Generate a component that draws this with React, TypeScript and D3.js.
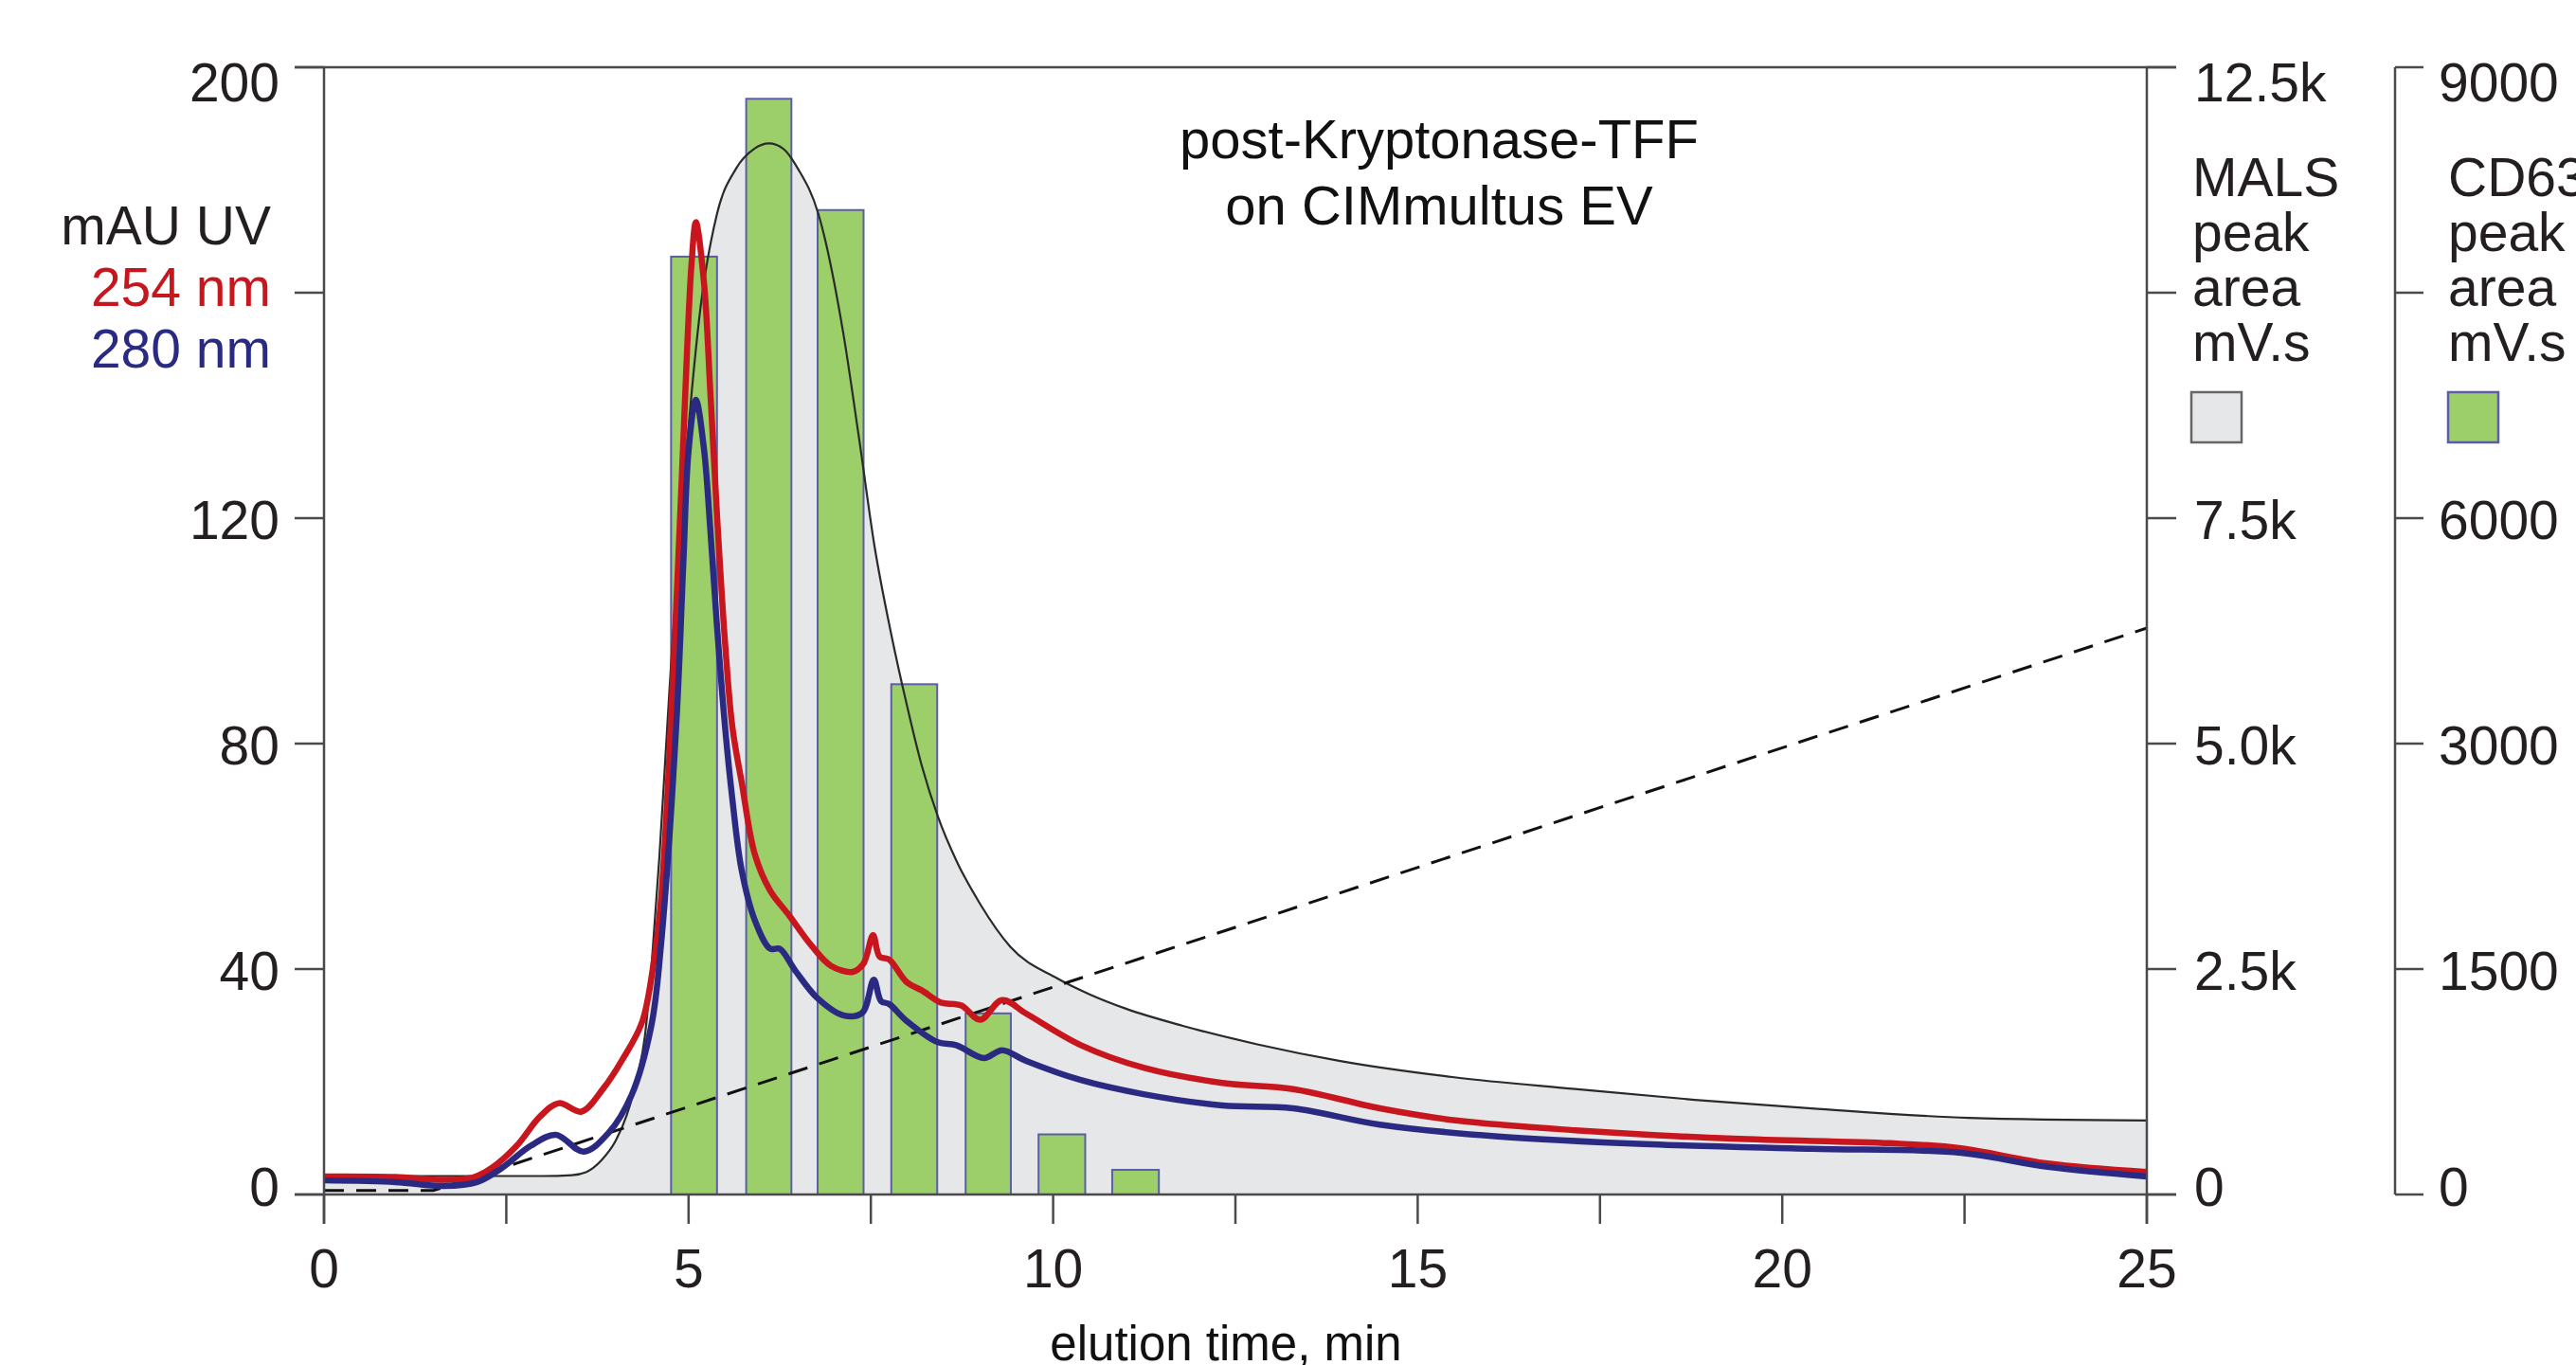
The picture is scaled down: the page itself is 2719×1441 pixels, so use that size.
import React from "react";
import * as d3 from "d3";

// ---------- data ----------
const uvTime254 = [0, 0.98, 1.57, 2.04, 2.3, 2.64, 2.96, 3.22, 3.53, 3.83, 4.09, 4.36, 4.52, 4.62, 4.73, 4.89, 4.98, 5.04, 5.1, 5.21, 5.3, 5.39, 5.5, 5.6, 5.73, 5.91, 6.12, 6.38, 6.69, 6.95, 7.25, 7.4, 7.53, 7.62, 7.75, 7.99, 8.2, 8.47, 8.64, 8.75, 9.0, 9.3, 9.63, 10.38, 11.24, 12.32, 13.29, 14.48, 15.55, 17.16, 19.32, 21.48, 22.45, 23.64, 25];
const uv254 = [3.2, 3.1, 2.6, 3.0, 4.7, 8.6, 13.8, 16.2, 14.7, 18.8, 23.9, 30.5, 41, 52, 76, 122, 150, 165, 172.5, 162, 142, 120.5, 98, 83, 73, 60.3, 53.9, 49.5, 44.1, 40.6, 39.5, 41, 46, 42.2, 41.7, 37.7, 36.2, 34, 33.8, 33.5, 31, 34.5, 32.1, 26.5, 22.5, 19.8, 18.7, 15.3, 13.1, 11.4, 9.9, 9.1, 8.2, 5.5, 4.0];

const uvTime280 = [0, 0.98, 1.64, 2.1, 2.44, 2.83, 3.18, 3.56, 3.9, 4.22, 4.49, 4.62, 4.83, 4.93, 5.0, 5.1, 5.21, 5.3, 5.39, 5.5, 5.6, 5.73, 5.91, 6.12, 6.25, 6.47, 6.77, 7.12, 7.38, 7.54, 7.64, 7.75, 7.99, 8.42, 8.67, 9.05, 9.3, 9.63, 10.38, 11.24, 12.32, 13.29, 14.48, 16.1, 18.2, 20.4, 22.45, 23.64, 25];
const uv280 = [2.5, 2.2, 1.5, 2.2, 4.7, 8.6, 10.6, 7.6, 10.9, 17.7, 30, 44, 83, 112.6, 132, 141, 132.4, 117.6, 100.8, 83, 70.2, 57.4, 48.6, 43.6, 43.6, 39.6, 34.8, 31.8, 32.2, 38.1, 34.3, 33.8, 30.8, 27, 26.5, 24.2, 25.6, 23.7, 20.3, 17.8, 15.8, 15.3, 12.4, 10.3, 8.9, 8.1, 7.4, 4.9, 3.2];

const malsTime = [0, 3.0, 3.4, 3.6, 3.8, 4.0, 4.15, 4.3, 4.4, 4.5, 4.6, 4.74, 4.96, 5.17, 5.39, 5.65, 5.9, 6.1, 6.3, 6.5, 6.78, 7.12, 7.34, 7.55, 7.77, 7.99, 8.2, 8.42, 8.68, 9.0, 9.41, 10.06, 10.5, 11.0, 11.78, 12.8, 13.94, 15.5, 17.16, 18.8, 20.4, 22.56, 25];
const malsArea = [205, 205, 215, 250, 375, 595, 875, 1310, 1750, 2625, 3750, 5625, 8125, 9875, 10875, 11375, 11595, 11655, 11595, 11375, 10875, 9560, 8375, 7190, 6250, 5440, 4750, 4190, 3690, 3220, 2750, 2395, 2220, 2060, 1870, 1665, 1480, 1300, 1170, 1050, 955, 850, 820];

const fractionStart = [4.76, 5.79, 6.77, 7.78, 8.8, 9.8, 10.81];
const fractionEnd = [5.39, 6.41, 7.4, 8.41, 9.42, 10.44, 11.45];
const cd63Area = [7740, 8790, 8050, 3790, 1205, 400, 164];

const gradientTime = [0, 1.5, 25];
const gradientLevel = [0.7, 0.7, 100.5];

const xTicks = [0, 2.5, 5, 7.5, 10, 12.5, 15, 17.5, 20, 22.5, 25];
const xTickLabels = ["0", "", "5", "", "10", "", "15", "", "20", "", "25"];
const uvTicks = [0, 40, 80, 120, 160, 200];
const uvTickLabels = ["0", "40", "80", "120", "", "200"];
const malsTicks = [0, 2500, 5000, 7500, 10000, 12500];
const malsTickLabels = ["0", "2.5k", "5.0k", "7.5k", "", "12.5k"];
const cd63Ticks = [0, 1500, 3000, 6000, 7500, 9000];
const cd63TickLabels = ["0", "1500", "3000", "6000", "", "9000"];

const titleLines = ["post-Kryptonase-TFF", "on CIMmultus EV"];
const uvLegendLines = ["mAU UV", "254 nm", "280 nm"];
const malsLegendLines = ["MALS", "peak", "area", "mV.s"];
const cd63LegendLines = ["CD63", "peak", "area", "mV.s"];
const xAxisTitle = "elution time, min";

// ---------- style ----------
const FONT = "'Liberation Sans', Arial, Helvetica, sans-serif";
const TXT = "#231f20";
const AX = "#4a4a4a";
const RED = "#c8161e";
const BLUE = "#2b2a83";
const GREEN = "#9ccf6a";
const BAR_STROKE = "#5b5ea6";
const GRAY = "#e6e7e8";

export default function App() {
  const W = 2719;
  const H = 1441;
  const left = 342;
  const right = 2266;
  const top = 71;
  const bottom = 1261;
  const tickLen = 31;
  const cdAxisX = 2528;

  const x = d3.scaleLinear().domain([0, 25]).range([left, right]);
  const yUV = d3.scaleLinear().domain([0, 200]).range([bottom, top]);
  const yMALS = d3.scaleLinear().domain([0, 12500]).range([bottom, top]);
  const step = (bottom - top) / 5;
  const yCD = d3
    .scaleLinear()
    .domain([0, 1500, 3000, 6000, 9000])
    .range([bottom, bottom - step, bottom - 2 * step, bottom - 3 * step, top]);

  const malsPts: [number, number][] = malsTime.map((t, i) => [t, malsArea[i]]);
  const areaGen = d3
    .area<[number, number]>()
    .x((d) => x(d[0]))
    .y0(bottom)
    .y1((d) => yMALS(d[1]))
    .curve(d3.curveMonotoneX);
  const malsLine = d3
    .line<[number, number]>()
    .x((d) => x(d[0]))
    .y((d) => yMALS(d[1]))
    .curve(d3.curveMonotoneX);

  const uvLine = d3
    .line<[number, number]>()
    .x((d) => x(d[0]))
    .y((d) => yUV(d[1]))
    .curve(d3.curveCatmullRom.alpha(0.5));
  const p254 = uvLine(uvTime254.map((t, i) => [t, uv254[i]]));
  const p280 = uvLine(uvTime280.map((t, i) => [t, uv280[i]]));
  const gradLine = d3
    .line<[number, number]>()
    .x((d) => x(d[0]))
    .y((d) => yUV(d[1]));
  const pGrad = gradLine(gradientTime.map((t, i) => [t, gradientLevel[i]]));

  const dyFor = (i: number, n: number) => (i === n - 1 ? 36 : i === 0 ? 12 : 22);
  const fs = 57;

  return (
    <svg
      width={W}
      height={H}
      viewBox={`0 0 ${W} ${H}`}
      style={{ position: "absolute", left: 0, top: 0, background: "#fff" }}
      fontFamily={FONT}
    >
      <style>{`body{margin:0;overflow:hidden}`}</style>
      <rect x={0} y={0} width={W} height={H} fill="#fff" />

      {/* MALS filled area */}
      <path d={areaGen(malsPts) || ""} fill={GRAY} stroke="none" />

      {/* CD63 bars */}
      {cd63Area.map((v, i) => (
        <rect
          key={"b" + i}
          x={x(fractionStart[i])}
          y={yCD(v)}
          width={x(fractionEnd[i]) - x(fractionStart[i])}
          height={bottom - yCD(v)}
          fill={GREEN}
          stroke={BAR_STROKE}
          strokeWidth={2}
        />
      ))}

      {/* MALS outline */}
      <path d={malsLine(malsPts) || ""} fill="none" stroke="#2a2a2a" strokeWidth={2.2} />

      {/* gradient dashed */}
      <path d={pGrad || ""} fill="none" stroke="#111" strokeWidth={3} strokeDasharray="21 13" />

      {/* UV traces */}
      <path d={p254 || ""} fill="none" stroke={RED} strokeWidth={6.5} strokeLinejoin="round" />
      <path d={p280 || ""} fill="none" stroke={BLUE} strokeWidth={6.5} strokeLinejoin="round" />

      {/* frame lines */}
      <line x1={left - tickLen} x2={right + tickLen} y1={top} y2={top} stroke={AX} strokeWidth={2.5} />
      <line x1={left - tickLen} x2={right + tickLen} y1={bottom} y2={bottom} stroke={AX} strokeWidth={2.5} />
      <line x1={left} x2={left} y1={top} y2={bottom + tickLen} stroke={AX} strokeWidth={2.5} />
      <line x1={right} x2={right} y1={top} y2={bottom + tickLen} stroke={AX} strokeWidth={2.5} />
      <line x1={cdAxisX} x2={cdAxisX} y1={top} y2={bottom} stroke={AX} strokeWidth={2.5} />

      {/* x ticks */}
      {xTicks.map((t, i) => (
        <g key={"xt" + i}>
          <line x1={x(t)} x2={x(t)} y1={bottom} y2={bottom + tickLen} stroke={AX} strokeWidth={2.5} />
          {xTickLabels[i] && (
            <text x={x(t)} y={1359} textAnchor="middle" fontSize={fs} fill={TXT}>
              {xTickLabels[i]}
            </text>
          )}
        </g>
      ))}

      {/* left UV axis */}
      {uvTicks.map((t, i) => (
        <g key={"ut" + i}>
          <line x1={left - tickLen} x2={left} y1={yUV(t)} y2={yUV(t)} stroke={AX} strokeWidth={2.5} />
          {uvTickLabels[i] && (
            <text x={295} y={yUV(t) + dyFor(i, uvTicks.length)} textAnchor="end" fontSize={fs} fill={TXT}>
              {uvTickLabels[i]}
            </text>
          )}
        </g>
      ))}

      {/* MALS axis */}
      {malsTicks.map((t, i) => (
        <g key={"mt" + i}>
          <line x1={right} x2={right + tickLen} y1={yMALS(t)} y2={yMALS(t)} stroke={AX} strokeWidth={2.5} />
          {malsTickLabels[i] && (
            <text x={2316} y={yMALS(t) + dyFor(i, malsTicks.length)} fontSize={fs} fill={TXT}>
              {malsTickLabels[i]}
            </text>
          )}
        </g>
      ))}

      {/* CD63 axis */}
      {cd63Ticks.map((t, i) => (
        <g key={"ct" + i}>
          <line x1={cdAxisX} x2={cdAxisX + 30} y1={yCD(t)} y2={yCD(t)} stroke={AX} strokeWidth={2.5} />
          {cd63TickLabels[i] && (
            <text x={2574} y={yCD(t) + dyFor(i, cd63Ticks.length)} fontSize={fs} fill={TXT}>
              {cd63TickLabels[i]}
            </text>
          )}
        </g>
      ))}

      {/* UV legend */}
      {uvLegendLines.map((s, i) => (
        <text
          key={"ul" + i}
          x={286}
          y={258 + i * 65}
          textAnchor="end"
          fontSize={fs}
          fill={i === 0 ? TXT : i === 1 ? RED : BLUE}
        >
          {s}
        </text>
      ))}

      {/* MALS legend */}
      {malsLegendLines.map((s, i) => (
        <text key={"ml" + i} x={2314} y={207 + i * 58} fontSize={fs} fill={TXT}>
          {s}
        </text>
      ))}
      <rect x={2313} y={414} width={53} height={53} fill={GRAY} stroke="#666" strokeWidth={2.5} />

      {/* CD63 legend */}
      {cd63LegendLines.map((s, i) => (
        <text key={"cl" + i} x={2584} y={207 + i * 58} fontSize={fs} fill={TXT}>
          {s}
        </text>
      ))}
      <rect x={2584} y={414} width={53} height={53} fill={GREEN} stroke={BAR_STROKE} strokeWidth={2.5} />

      {/* title */}
      {titleLines.map((s, i) => (
        <text key={"t" + i} x={1519} y={167 + i * 70} textAnchor="middle" fontSize={58} fill="#111">
          {s}
        </text>
      ))}

      {/* x axis title */}
      <text x={1294} y={1436} textAnchor="middle" fontSize={51} fill="#111">
        {xAxisTitle}
      </text>
    </svg>
  );
}
